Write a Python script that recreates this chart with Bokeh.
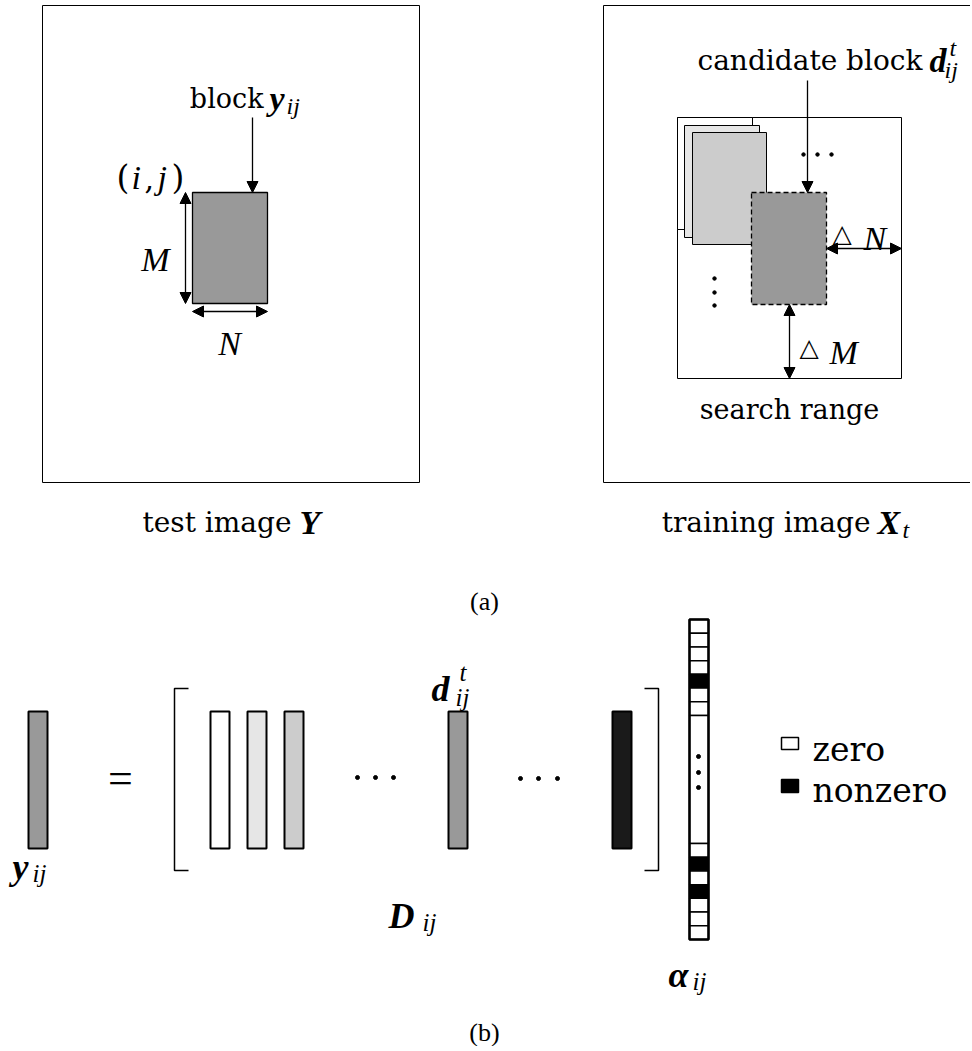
from bokeh.plotting import figure
from bokeh.models import Range1d, Arrow, NormalHead
from bokeh.core.properties import value
from bokeh.embed import file_html
from bokeh.resources import INLINE

SERIF = "Liberation Serif, serif"
ROMAN = "DejaVu Serif, serif"

# ---------------- layout data (page pixel coordinates) ----------------
# panel (a): frames [left, right, top, bottom]
frame_left = [42, 419, 5, 482]
frame_right = [603, 1000, 5, 482]
search_range = [677, 901, 117, 378]
# test block y_ij
block_y = [192, 267, 192, 303]
# stacked candidate blocks (back to front)
stack_left = [677, 684, 692]
stack_right = [752, 759, 766]
stack_top = [117, 125, 132]
stack_bottom = [229, 237, 244]
stack_fill = ["#ffffff", "#e6e6e6", "#cccccc"]
cand_block = [751, 826, 192, 304]

# panel (b): column vectors
bar_top, bar_bottom, bar_w = 711, 848, 19
dict_left = [210, 247, 284, 448, 612]
dict_fill = ["#ffffff", "#e6e6e6", "#cccccc", "#999999", "#1a1a1a"]
y_bar_left = 28

# sparse coefficient vector alpha (1 = nonzero)
alpha_top_cells = [0, 0, 0, 0, 1, 0, 0]
alpha_bottom_cells = [0, 1, 0, 1, 0, 0, 0]
alpha_x = [689, 708]
alpha_top_start, alpha_mid_start, alpha_mid_end = 619, 715, 843
cell_h = (alpha_mid_start - alpha_top_start) / len(alpha_top_cells)

legend_labels = ["zero", "nonzero"]
legend_fill = ["#ffffff", "#000000"]

# ---------------- figure ----------------
W, H = 970, 1046
p = figure(width=W, height=H, x_range=Range1d(0, W), y_range=Range1d(H, 0),
           x_axis_type=None, y_axis_type=None, toolbar_location=None,
           output_backend="svg", min_border=0)
p.outline_line_color = None
p.background_fill_color = "white"
p.border_fill_color = "white"


def rect(b, fill=None, lw=1.0, dash="solid"):
    p.quad(left=[b[0]], right=[b[1]], top=[b[2]], bottom=[b[3]],
           fill_color=fill if fill else None, line_color="black",
           line_width=lw, line_dash=dash)


def txt(x, y, s, size, style="normal", align="left", font=SERIF):
    p.text(x=[x], y=[y], text=[s], text_font=value(font), text_font_size=f"{size}px",
           text_font_style=style, text_align=align, text_baseline="alphabetic",
           text_color="black")


def arrow(x0, y0, x1, y1, both=False):
    head = lambda: NormalHead(size=11, fill_color="black", line_color="black", line_width=1)
    p.add_layout(Arrow(start=head() if both else None, end=head(),
                       x_start=x0, y_start=y0, x_end=x1, y_end=y1,
                       line_width=1.3, line_color="black"))


# ----- panel (a) left -----
rect(frame_left, lw=1.0)
rect(block_y, fill="#999999", lw=1.3)
arrow(252, 117, 252, block_y[2])
arrow(185, block_y[2], 185, block_y[3], both=True)
arrow(block_y[0], 311, block_y[1], 311, both=True)
txt(263, 98, "block", 27, align="right", font=ROMAN)
txt(269, 98, "y", 34, "bold italic")
txt(286, 105, "ij", 24, "italic")
# (i, j)
txt(116, 177, "(", 33, font=ROMAN)
txt(131, 177, "i", 34, "italic")
txt(144, 177, ",", 30, font=ROMAN)
txt(157, 177, "j", 34, "italic")
txt(171, 177, ")", 33, font=ROMAN)
txt(155, 259, "M", 34, "italic", align="center")
txt(229, 343, "N", 34, "italic", align="center")
txt(291, 522, "test image", 28, align="right", font=ROMAN)
txt(299, 522, "Y", 34, "bold italic")

# ----- panel (a) right -----
rect(frame_right, lw=1.0)
rect(search_range, lw=1.0)
for l, r, t, b, f in zip(stack_left, stack_right, stack_top, stack_bottom, stack_fill):
    rect([l, r, t, b], fill=f, lw=1.0)
rect(cand_block, fill="#999999", lw=1.3, dash="5 3")
arrow(807, 80, 807, cand_block[2])
arrow(cand_block[1], 248, search_range[1], 248, both=True)
arrow(789, cand_block[3], 789, search_range[3], both=True)
p.scatter(x=[803, 817, 831], y=[154, 154, 154], size=3.5, color="black")
p.scatter(x=[714, 714, 714], y=[278, 292, 305], size=3.5, color="black")
txt(922, 60, "candidate block", 28, align="right", font=ROMAN)
txt(929, 60, "d", 34, "bold italic")
txt(949, 47, "t", 24, "italic")
txt(944, 69, "ij", 24, "italic")
txt(832, 233, "\u25b3", 25, font="DejaVu Sans")
txt(863, 238, "N", 34, "italic")
txt(799, 347, "\u25b3", 25, font="DejaVu Sans")
txt(829, 352, "M", 34, "italic")
txt(789, 409, "search range", 27, align="center", font=ROMAN)
txt(870, 522, "training image", 28, align="right", font=ROMAN)
txt(877, 522, "X", 34, "bold italic")
txt(902, 529, "t", 24, "italic")

txt(484, 601, "(a)", 26, align="center")

# ----- panel (b) -----
p.quad(left=[y_bar_left], right=[y_bar_left + bar_w], top=[bar_top], bottom=[bar_bottom],
       fill_color="#999999", line_color="black", line_width=2)
p.quad(left=dict_left, right=[x + bar_w for x in dict_left],
       top=[bar_top] * len(dict_left), bottom=[bar_bottom] * len(dict_left),
       fill_color=dict_fill, line_color="black", line_width=2)
# brackets
p.line(x=[188, 174, 174, 188], y=[688, 688, 870, 870], line_color="black", line_width=1.5)
p.line(x=[644, 658, 658, 644], y=[688, 688, 870, 870], line_color="black", line_width=1.5)
txt(120, 778, "=", 44, align="center")
p.scatter(x=[357, 375, 393], y=[777] * 3, size=4, color="black")
p.scatter(x=[520, 538, 557], y=[778] * 3, size=4, color="black")

# alpha vector
tops, bots, fills = [], [], []
for k, v in enumerate(alpha_top_cells):
    tops.append(alpha_top_start + k * cell_h)
    bots.append(alpha_top_start + (k + 1) * cell_h)
    fills.append(legend_fill[v])
tops.append(alpha_mid_start); bots.append(alpha_mid_end); fills.append("#ffffff")
for k, v in enumerate(alpha_bottom_cells):
    tops.append(alpha_mid_end + k * cell_h)
    bots.append(alpha_mid_end + (k + 1) * cell_h)
    fills.append(legend_fill[v])
p.quad(left=[alpha_x[0]] * len(tops), right=[alpha_x[1]] * len(tops), top=tops, bottom=bots,
       fill_color=fills, line_color="black", line_width=1.5)
p.quad(left=[alpha_x[0]], right=[alpha_x[1]], top=[alpha_top_start], bottom=[bots[-1]],
       fill_color=None, line_color="black", line_width=2.5)
p.scatter(x=[698] * 3, y=[756, 772, 787], size=4, color="black")

# labels (b)
txt(12, 866, "y", 36, "bold italic")
txt(32, 873, "ij", 25, "italic")
txt(431, 688, "d", 36, "bold italic")
txt(459, 672, "t", 25, "italic")
txt(455, 697, "ij", 25, "italic")
txt(388, 915, "D", 36, "bold italic")
txt(422, 922, "ij", 25, "italic")
txt(668, 974, "\u03b1", 36, "bold italic")
txt(692, 981, "ij", 25, "italic")

# legend
p.quad(left=[781, 781], right=[798, 798], top=[737, 779], bottom=[749, 792],
       fill_color=legend_fill, line_color="black", line_width=1.5)
txt(812, 749, legend_labels[0], 33, font=ROMAN)
txt(812, 790, legend_labels[1], 33, font=ROMAN)

txt(484, 1032, "(b)", 26, align="center")

open("out.html", "w").write(file_html(p, INLINE))
